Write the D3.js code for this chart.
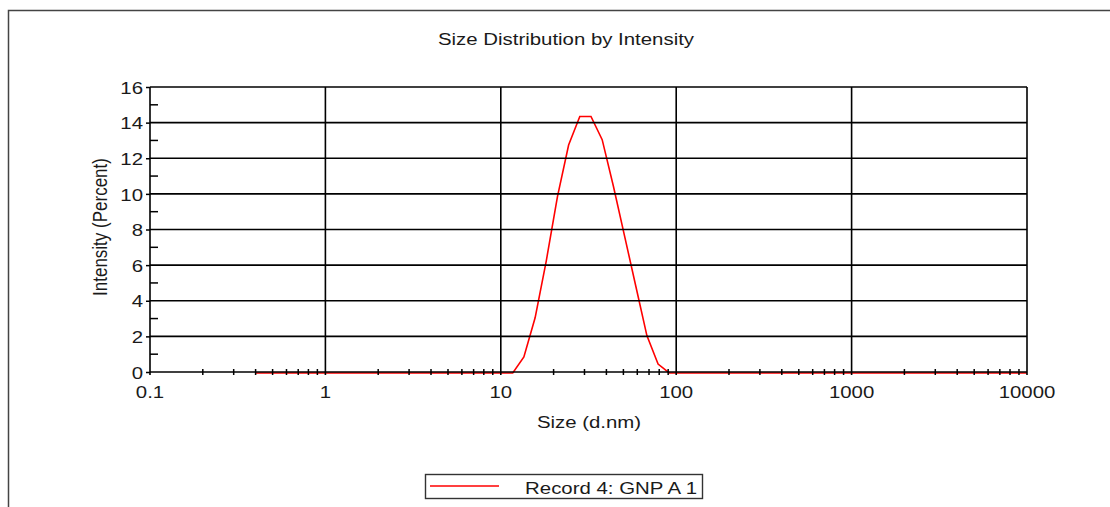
<!DOCTYPE html>
<html>
<head>
<meta charset="utf-8">
<script src="https://cdn.jsdelivr.net/npm/d3@7"></script>
<style>
  body { margin: 0; background: #fff; }
  text { font-family: "Liberation Sans", Arial, sans-serif; fill: #1a1a1a; }
</style>
</head>
<body>
<div id="chart"></div>
<script>
// Size bins (d.nm) and intensity (%)
var sizes = [0.4, 0.4632, 0.5365, 0.6213, 0.7195, 0.8332, 0.9649, 1.117, 1.294, 1.499,
  1.736, 2.01, 2.328, 2.696, 3.122, 3.615, 4.187, 4.849, 5.615, 6.503,
  7.531, 8.721, 10.1, 11.7, 13.54, 15.69, 18.17, 21.04, 24.36, 28.21,
  32.67, 37.84, 43.82, 50.75, 58.77, 68.06, 78.82, 91.28, 105.7, 122.4,
  141.8, 164.2, 190.1, 220.2, 255, 295.3, 342, 396.1, 458.7, 531.2,
  615.1, 712.4, 825, 955.4, 1106, 1281, 1484, 1718, 1990, 2305,
  2669, 3091, 3580, 4145, 4801, 5560, 6439, 7456, 8635, 10000];
var intensity = [0, 0, 0, 0, 0, 0, 0, 0, 0, 0,
  0, 0, 0, 0, 0, 0, 0, 0, 0, 0,
  0, 0, 0, 0, 0.9, 3.1, 6.3, 9.9, 12.8, 14.4,
  14.4, 13.1, 10.5, 7.7, 4.9, 2.1, 0.5, 0, 0, 0,
  0, 0, 0, 0, 0, 0, 0, 0, 0, 0,
  0, 0, 0, 0, 0, 0, 0, 0, 0, 0,
  0, 0, 0, 0, 0, 0, 0, 0, 0, 0];
var xTicks = [0.1, 1, 10, 100, 1000, 10000];
var xTickLabels = ["0.1", "1", "10", "100", "1000", "10000"];
var yTicks = [0, 2, 4, 6, 8, 10, 12, 14, 16];
var legendLabel = "Record 4: GNP A 1";

var svgWidth = 1110, svgHeight = 507;
var margin = { top: 87, right: 83, bottom: 135, left: 150 };
var width = svgWidth - margin.left - margin.right;
var height = svgHeight - margin.top - margin.bottom;
var stretch = 1.2;   // text in the picture is drawn wide
var ink = "#000";

var svg = d3.select("#chart").append("svg")
  .attr("width", svgWidth)
  .attr("height", svgHeight);

// outer frame (runs off the right and bottom)
svg.append("rect")
  .attr("x", 8.5).attr("y", 10.5)
  .attr("width", 1200).attr("height", 600)
  .attr("fill", "none").attr("stroke", "#444").attr("stroke-width", 1.5);

function wideText(g, x, y, str, anchor) {
  return g.append("text")
    .attr("transform", `translate(${x},${y}) scale(${stretch},1)`)
    .attr("text-anchor", anchor || "middle")
    .style("font-size", "17px")
    .text(str);
}

wideText(svg, 566, 45, "Size Distribution by Intensity");

var chartGroup = svg.append("g")
  .attr("transform", `translate(${margin.left}, ${margin.top})`);

var x = d3.scaleLog().domain([0.1, 10000]).range([0, width]);
var y = d3.scaleLinear().domain([0, 16]).range([height, 0]);

// curve first, grid drawn over it
var line = d3.line()
  .x((d, i) => x(sizes[i]))
  .y(d => y(d));

chartGroup.append("path")
  .datum(intensity)
  .attr("d", line)
  .attr("transform", "translate(0,1)")
  .attr("fill", "none")
  .attr("stroke", "#ff0000")
  .attr("stroke-width", 1.6);

// horizontal grid lines
chartGroup.selectAll(".hgrid")
  .data(yTicks)
  .enter().append("line")
  .attr("x1", 0).attr("x2", width)
  .attr("y1", d => y(d)).attr("y2", d => y(d))
  .attr("stroke", ink).attr("stroke-width", 1.6);

// vertical grid lines at decades
chartGroup.selectAll(".vgrid")
  .data(xTicks)
  .enter().append("line")
  .attr("x1", d => x(d)).attr("x2", d => x(d))
  .attr("y1", 0).attr("y2", height + 3)
  .attr("stroke", ink).attr("stroke-width", 1.6);

// y axis: major ticks out to the left, minor ticks inside
var leftAxis = d3.axisLeft(y).tickValues(yTicks).tickSize(4).tickPadding(3).tickFormat(d3.format("d"));
var yAxisG = chartGroup.append("g").call(leftAxis);
yAxisG.select(".domain").remove();
yAxisG.selectAll("line").attr("stroke", ink).attr("stroke-width", 1.5);
yAxisG.selectAll("text")
  .attr("font-family", null)
  .attr("fill", null)
  .style("font-size", "17px")
  .attr("dy", "0.36em")
  .attr("transform", `scale(${stretch},1)`)
  .attr("x", -7 / stretch);

var yMinor = d3.range(1, 16, 2);
chartGroup.selectAll(".yminor")
  .data(yMinor)
  .enter().append("line")
  .attr("x1", 0).attr("x2", 8)
  .attr("y1", d => y(d)).attr("y2", d => y(d))
  .attr("stroke", ink).attr("stroke-width", 1.5);

// x axis minor ticks (2..9 in each decade)
var xMinor = [];
xTicks.slice(0, -1).forEach(function(t) {
  [2, 3, 4, 5, 6, 7, 8, 9].forEach(function(m) { xMinor.push(t * m); });
});
chartGroup.selectAll(".xminor")
  .data(xMinor)
  .enter().append("line")
  .attr("x1", d => x(d)).attr("x2", d => x(d))
  .attr("y1", height - 3).attr("y2", height + 3)
  .attr("stroke", ink).attr("stroke-width", 1.5);

xTicks.forEach(function(t, i) {
  wideText(chartGroup, x(t), height + 26, xTickLabels[i]);
});

// axis labels
wideText(chartGroup, 589 - margin.left, 428 - margin.top, "Size (d.nm)");

svg.append("text")
  .attr("transform", `translate(107,227) scale(${stretch},1) rotate(-90)`)
  .attr("text-anchor", "middle")
  .style("font-size", "17px")
  .text("Intensity (Percent)");

// legend
var legend = svg.append("g");
legend.append("rect")
  .attr("x", 425.5).attr("y", 474.5)
  .attr("width", 277).attr("height", 24)
  .attr("fill", "#fff").attr("stroke", "#333").attr("stroke-width", 1.4);
legend.append("line")
  .attr("x1", 430).attr("x2", 499)
  .attr("y1", 486).attr("y2", 486)
  .attr("stroke", "#ff0000").attr("stroke-width", 1.5);
wideText(legend, 697, 494, legendLabel, "end");
</script>
</body>
</html>
